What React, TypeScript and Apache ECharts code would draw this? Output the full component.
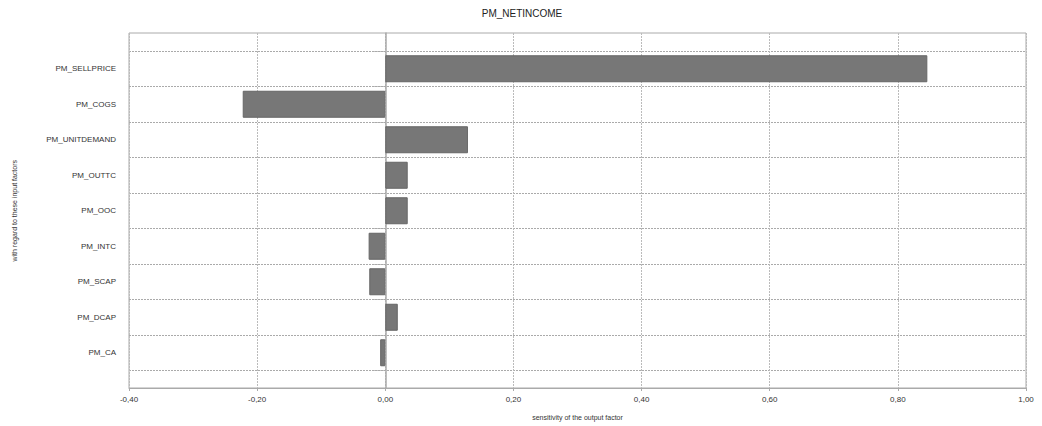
import React, { useEffect, useRef } from "react";
import * as echarts from "echarts";

const categories = [
  "PM_SELLPRICE",
  "PM_COGS",
  "PM_UNITDEMAND",
  "PM_OUTTC",
  "PM_OOC",
  "PM_INTC",
  "PM_SCAP",
  "PM_DCAP",
  "PM_CA",
];
const sensitivity = [0.846, -0.2225, 0.129, 0.035, 0.035, -0.026, -0.025, 0.0195, -0.008];
const xMin = -0.4;
const xMax = 1.0;
const xStep = 0.2;

const FONT = "Liberation Sans, Arial, sans-serif";

export default function App() {
  const ref = useRef<HTMLDivElement>(null);
  useEffect(() => {
    if (!ref.current) return;
    const chart = echarts.init(ref.current, undefined, { renderer: "svg" });
    const fmt = (v: number) => v.toFixed(2).replace(".", ",");
    chart.setOption({
      animation: false,
      backgroundColor: "#fff",
      textStyle: { fontFamily: FONT },
      title: {
        text: "PM_NETINCOME",
        left: 517,
        textAlign: "center",
        top: 3,
        textStyle: { fontSize: 10, fontWeight: "normal", color: "#222", fontFamily: FONT },
      },
      grid: [
        { left: 129, right: 16, top: 33, bottom: 38, show: true, borderColor: "#aaa", borderWidth: 1, backgroundColor: "transparent" },
        { left: 129, right: 16, top: 51, bottom: 55.5 },
      ],
      xAxis: [
        {
          type: "value",
          gridIndex: 0,
          min: xMin,
          max: xMax,
          interval: xStep,
          axisLine: { show: true, lineStyle: { color: "#aaa" } },
          axisTick: { show: true, length: 3, lineStyle: { color: "#aaa" } },
          axisLabel: { formatter: fmt, fontSize: 8, color: "#333", margin: 7, fontFamily: FONT },
          splitLine: { show: true, lineStyle: { type: [2, 1], color: "#bbb" } },
          name: "sensitivity of the output factor",
          nameLocation: "middle",
          nameGap: 26,
          nameTextStyle: { fontSize: 7, color: "#333", fontFamily: FONT },
        },
        {
          type: "value",
          gridIndex: 1,
          min: xMin,
          max: xMax,
          interval: xStep,
          show: false,
        },
      ],
      yAxis: [
        {
          type: "value",
          gridIndex: 0,
          min: 0,
          max: 1,
          axisLine: { show: true, lineStyle: { color: "#aaa", width: 1.5 } },
          axisTick: { show: false },
          axisLabel: { show: false },
          splitLine: { show: false },
        },
        {
          type: "category",
          gridIndex: 1,
          data: categories,
          inverse: true,
          axisLine: { show: false },
          axisTick: { show: true, length: 11, lineStyle: { type: [2, 1], color: "#aaa" } },
          axisLabel: { fontSize: 8, color: "#333", margin: 13, fontFamily: FONT },
          splitLine: { show: true, lineStyle: { type: [2, 1], color: "#aaa" } },
          name: "with regard to these input factors",
          nameLocation: "middle",
          nameGap: 111,
          nameRotate: 90,
          nameTextStyle: { fontSize: 7, color: "#333", fontFamily: FONT },
        },
      ],
      series: [
        {
          type: "bar",
          xAxisIndex: 1,
          yAxisIndex: 1,
          data: sensitivity,
          barWidth: 27,
          itemStyle: { color: "#777", borderColor: "#666", borderWidth: 1 },
        },
      ],
    });
    return () => chart.dispose();
  }, []);
  return (
    <div
      ref={ref}
      style={{ position: "fixed", left: 0, top: 0, width: 1042, height: 426 }}
    />
  );
}
